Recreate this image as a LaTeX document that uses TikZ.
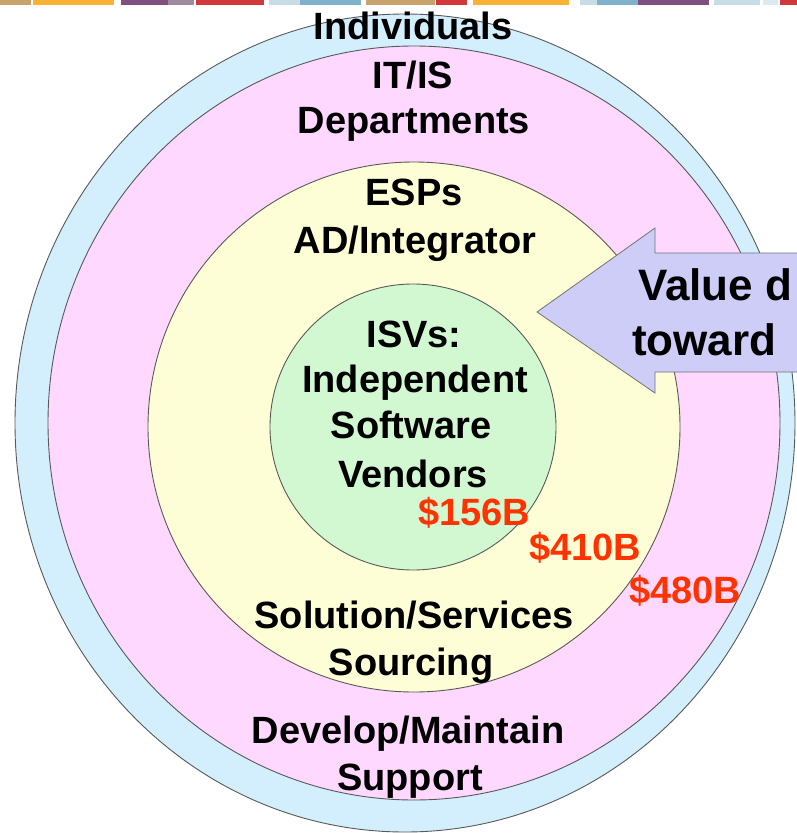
\documentclass[tikz,border=0pt]{standalone}
\usepackage{fontspec}
\setmainfont{Liberation Sans}
\begin{document}
\begin{tikzpicture}[x=1pt,y=-1pt,
  ring/.style={draw=black!65,line width=0.9pt},
  lbl/.style={font=\fontsize{38}{47}\selectfont\bfseries,anchor=base,inner sep=0pt},
  money/.style={lbl,text=moneyred},
  big/.style={font=\fontsize{44}{52}\selectfont\bfseries,anchor=base west,inner sep=0pt}]
\definecolor{ringblue}{HTML}{D3EFFD}
\definecolor{ringpink}{HTML}{FFD8FF}
\definecolor{ringyellow}{HTML}{FEFED6}
\definecolor{ringgreen}{HTML}{D2F8D2}
\definecolor{arrowfill}{HTML}{CDCDF8}
\definecolor{moneyred}{HTML}{FF3300}
\definecolor{bartan}{HTML}{C8A36B}
\definecolor{barorange}{HTML}{F9B233}
\definecolor{barpurple}{HTML}{7F4F7F}
\definecolor{barmauve}{HTML}{A08AA0}
\definecolor{barred}{HTML}{D2373C}
\definecolor{barpale}{HTML}{C8DCE6}
\definecolor{barblue}{HTML}{7FB0CC}
\definecolor{barpaler}{HTML}{DDE9F0}

\clip (0,0) rectangle (797,833);
\fill[white] (0,0) rectangle (797,833);

% coloured strip along the top edge
\foreach \a/\b/\c in {0/31/bartan,33/114/barorange,121/168/barpurple,168/194/barmauve,
  196/264/barred,269/300/barpale,300/361/barblue,366/435/bartan,436/467/barred,
  473/569/barorange,580/597/barpale,597/638/barblue,638/709/barpurple,714/760/barpale,
  763/778/barpaler,780/797/barred}
  \fill[\c] (\a,0) rectangle (\b,5);

% nested market rings
\draw[ring,fill=ringblue]   (405,423) ellipse [x radius=390,y radius=409];
\draw[ring,fill=ringpink]   (414,423) ellipse [x radius=366,y radius=377];
\draw[ring,fill=ringyellow] (414,427) ellipse [x radius=266,y radius=265];
\draw[ring,fill=ringgreen]  (413,427) ellipse [x radius=143,y radius=143];

% block arrow pointing toward the centre
\draw[draw=black!55,line width=0.8pt,fill=arrowfill]
  (537,312) -- (655,228) -- (655,253) -- (820,253) -- (820,372) -- (655,372) -- (655,393) -- cycle;
\node[big] (val1) at (638,300) {Value d};
\node[big] (val2) at (632,355) {toward};

% ring labels
\node[lbl] (ind)  at (413,39)  {Individuals};
\node[lbl] (it)   at (413,88)  {IT/IS};
\node[lbl] (dep)  at (414,133) {Departments};
\node[lbl] (esp)  at (414,205) {ESPs};
\node[lbl] (ad)   at (415,253) {AD/Integrator};
\node[lbl] (isv)  at (414,347) {ISVs:};
\node[lbl] (indep) at (415,392) {Independent};
\node[lbl] (soft) at (411,438) {Software};
\node[lbl] (vend) at (413,487) {Vendors};
\node[lbl] (sol)  at (414,628) {Solution/Services};
\node[lbl] (src)  at (411,675) {Sourcing};
\node[lbl] (dev)  at (408,743) {Develop/Maintain};
\node[lbl] (sup)  at (410,790) {Support};

% market sizes
\node[money] (m1) at (474,525) {\$156B};
\node[money] (m2) at (585,560) {\$410B};
\node[money] (m3) at (685,603) {\$480B};
\end{tikzpicture}
\end{document}
